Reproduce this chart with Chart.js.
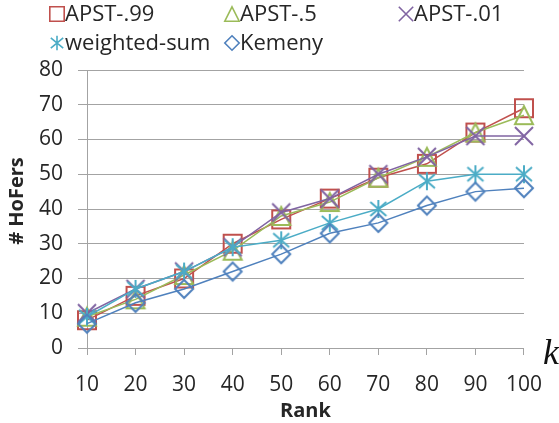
<!DOCTYPE html>
<html>
<head>
<meta charset="utf-8">
<script src="https://cdn.jsdelivr.net/npm/chart.js@4.4.1/dist/chart.umd.min.js"></script>
<style>
    html, body { margin: 0; padding: 0; background: #fff; }
    #wrap { position: relative; width: 559px; height: 423px; }
</style>
</head>
<body>
<div id="wrap"><canvas id="hofersChart" width="559" height="423"></canvas></div>
<script>
// Number of HoFers found at each rank cut-off
const ranks = [10, 20, 30, 40, 50, 60, 70, 80, 90, 100];
const apst99 = [8, 15, 20, 30, 37, 43, 49, 53, 62, 69];
const apst5 = [9, 14, 21, 28, 38, 42, 49, 55, 62, 67];
const apst01 = [10, 17, 22, 29, 39, 43, 50, 55, 61, 61];
const weightedSum = [9, 17, 22, 29, 31, 36, 40, 48, 50, 50];
const kemeny = [7, 13, 17, 22, 27, 33, 36, 41, 45, 46];

const seriesNames = ['APST-.99', 'APST-.5', 'APST-.01', 'weighted-sum', 'Kemeny'];
const seriesColors = ['#C0504D', '#9BBB59', '#8064A2', '#4BACC6', '#4F81BD'];
const seriesShapes = ['square', 'triangle', 'x', 'asterisk', 'diamond'];
const yMin = 0, yMax = 80, yStep = 10;

const FONT = '"Open Sans", "Liberation Sans", sans-serif';
const TEXT = '#262626';
const GRID = '#a3a3a3';

// Excel-style hollow markers drawn onto small canvases
function makeMarker(shape, color, size, lw) {
    const pad = 2;
    const c = document.createElement('canvas');
    c.width = c.height = size + pad * 2;
    const ctx = c.getContext('2d');
    const a = pad + lw / 2, b = pad + size - lw / 2, mid = pad + size / 2;
    ctx.strokeStyle = color;
    ctx.lineWidth = lw;
    ctx.beginPath();
    if (shape === 'square') {
        ctx.rect(a, a, b - a, b - a);
    } else if (shape === 'triangle') {
        ctx.moveTo(mid, a);
        ctx.lineTo(b, b);
        ctx.lineTo(a, b);
        ctx.closePath();
    } else if (shape === 'x') {
        ctx.moveTo(a, a); ctx.lineTo(b, b);
        ctx.moveTo(b, a); ctx.lineTo(a, b);
    } else if (shape === 'asterisk') {
        ctx.moveTo(mid, a); ctx.lineTo(mid, b);
        ctx.moveTo(a + 1, a + 2); ctx.lineTo(b - 1, b - 2);
        ctx.moveTo(b - 1, a + 2); ctx.lineTo(a + 1, b - 2);
    } else if (shape === 'diamond') {
        ctx.moveTo(mid, a);
        ctx.lineTo(b, mid);
        ctx.lineTo(mid, b);
        ctx.lineTo(a, mid);
        ctx.closePath();
    }
    ctx.stroke();
    return c;
}

const plotMarkers = seriesShapes.map((s, i) => makeMarker(s, seriesColors[i], 20, 2));
const legendMarkers = seriesShapes.map((s, i) => makeMarker(s, seriesColors[i], 16, 1.6));

// Legend grid, y-axis title and the stray "k" drawn straight onto the canvas
const legendCols = [57, 232, 406];
const legendRows = [14, 43];

const extrasPlugin = {
    id: 'extras',
    afterDraw(chart) {
        const ctx = chart.ctx;
        ctx.save();
        ctx.font = '22px ' + FONT;
        ctx.fillStyle = TEXT;
        ctx.textBaseline = 'middle';
        ctx.textAlign = 'left';
        seriesNames.forEach((name, i) => {
            const cx = legendCols[i % 3];
            const cy = legendRows[Math.floor(i / 3)];
            const m = legendMarkers[i];
            ctx.drawImage(m, cx - m.width / 2, cy - m.height / 2);
            ctx.fillText(name, cx + 8, cy + 1);
        });

        ctx.translate(17, 201);
        ctx.rotate(-Math.PI / 2);
        ctx.textAlign = 'center';
        ctx.font = 'bold 20px ' + FONT;
        ctx.fillText('# HoFers', 0, 0);
        ctx.restore();

        ctx.save();
        ctx.font = 'italic 36px "Liberation Serif", "DejaVu Serif", serif';
        ctx.fillStyle = '#111';
        ctx.textBaseline = 'alphabetic';
        ctx.fillText('k', 543, 364);
        ctx.restore();
    }
};

const allSeries = [apst99, apst5, apst01, weightedSum, kemeny];

new Chart(document.getElementById('hofersChart'), {
    type: 'line',
    data: {
        labels: ranks,
        datasets: allSeries.map((values, i) => ({
            label: seriesNames[i],
            data: values,
            borderColor: seriesColors[i],
            borderWidth: 1.5,
            pointStyle: plotMarkers[i],
            pointRadius: 10,
            pointHoverRadius: 10,
            tension: 0,
            fill: false,
            clip: false,
            order: allSeries.length - i
        }))
    },
    options: {
        responsive: false,
        animation: false,
        events: [],
        layout: { padding: { top: 70, right: 30, left: 0, bottom: 0 } },
        plugins: {
            legend: { display: false },
            tooltip: { enabled: false }
        },
        scales: {
            x: {
                type: 'category',
                offset: false,
                afterFit: scale => { scale.height = 75; },
                grid: { display: true, drawOnChartArea: false, color: GRID, tickLength: 7 },
                border: { display: true, color: GRID, width: 1 },
                ticks: { color: TEXT, font: { family: FONT, size: 21 }, padding: 17, maxRotation: 0 },
                title: {
                    display: true,
                    text: 'Rank',
                    color: TEXT,
                    font: { family: FONT, size: 20, weight: 'bold' },
                    padding: { top: 1, bottom: 0 }
                }
            },
            y: {
                min: yMin,
                max: yMax,
                afterFit: scale => { scale.width = 87; },
                grid: { color: GRID, tickLength: 9 },
                border: { display: true, color: GRID, width: 1 },
                ticks: {
                    stepSize: yStep,
                    color: TEXT,
                    font: { family: FONT, size: 21 },
                    padding: 15
                }
            }
        }
    },
    plugins: [extrasPlugin]
});
</script>
</body>
</html>
